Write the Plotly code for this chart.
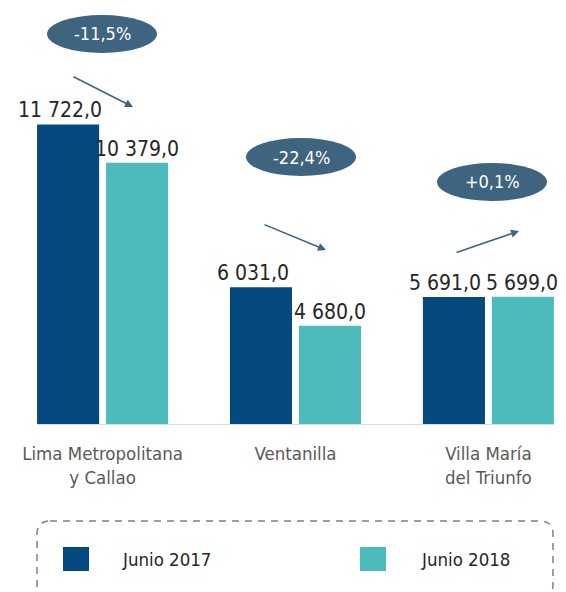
import plotly.graph_objects as go

categories = ["Lima Metropolitana<br>y Callao", "Ventanilla", "Villa María<br>del Triunfo"]
series_names = ["Junio 2017", "Junio 2018"]
values_2017 = [11722.0, 6031.0, 5691.0]
values_2018 = [10379.0, 4680.0, 5699.0]

OFF = 8  # page body margin: the figure starts 8px in from the window corner
W, H = 566 - OFF, 592 - OFF
colors = ["#044a7e", "#4dbbbc"]
slate = "#3e6480"
FONT = "Liberation Sans Narrow, DejaVu Sans Condensed, Arial Narrow, sans-serif"


def fx(px):
    return (px - OFF) / W


def fy(py):
    return 1 - (py - OFF) / H


def fmt(v):
    return f"{v:,.1f}".replace(",", " ").replace(".", ",")


def pct(a, b):
    return f"{(b / a - 1) * 100:+.1f}%".replace(".", ",")


fig = go.Figure()
for name, vals, col in zip(series_names, [values_2017, values_2018], colors):
    fig.add_trace(go.Bar(x=categories, y=vals, name=name, marker_color=col,
                         marker_line_width=0, showlegend=False, hoverinfo="skip"))

annotations = []
shapes = []

# value labels above the bars
for vals, shift in zip([values_2017, values_2018], [-43, 34]):
    for cat, v in zip(categories, vals):
        annotations.append(dict(x=cat, y=v, xref="x", yref="y", text=fmt(v),
                                showarrow=False, xshift=shift, yanchor="bottom",
                                font=dict(family=FONT, size=21, color="#262626")))

# percentage bubbles + arrows
bubble_centers = [(102, 34), (301, 157), (492, 182)]
arrows = [((133, 107), (72, 76)), ((326, 250), (263, 224)), ((519, 231), (455, 253))]
for i, (cx, cy) in enumerate(bubble_centers):
    shapes.append(dict(type="circle", xref="paper", yref="paper",
                       x0=fx(cx - 55), x1=fx(cx + 55), y0=fy(cy + 19), y1=fy(cy - 19),
                       fillcolor=slate, line_width=0))
    annotations.append(dict(x=fx(cx), y=fy(cy), xref="paper", yref="paper",
                            xanchor="center", yanchor="middle",
                            text=pct(values_2017[i], values_2018[i]), showarrow=False,
                            font=dict(family=FONT, size=18, color="white")))
    (hx, hy), (tx, ty) = arrows[i]
    annotations.append(dict(x=fx(hx), y=fy(hy), xref="paper", yref="paper", text="",
                            showarrow=True, ax=tx - hx, ay=ty - hy, arrowhead=2,
                            arrowsize=1, arrowwidth=1.6, arrowcolor=slate, standoff=0))

# legend (drawn by hand, dashed rounded frame)
L, R, T, B, r = 37, 553, 521, 598, 13
path = (f"M {fx(L + r)},{fy(T)} L {fx(R - r)},{fy(T)} Q {fx(R)},{fy(T)} {fx(R)},{fy(T + r)} "
        f"L {fx(R)},{fy(B - r)} Q {fx(R)},{fy(B)} {fx(R - r)},{fy(B)} "
        f"L {fx(L + r)},{fy(B)} Q {fx(L)},{fy(B)} {fx(L)},{fy(B - r)} "
        f"L {fx(L)},{fy(T + r)} Q {fx(L)},{fy(T)} {fx(L + r)},{fy(T)} Z")
shapes.append(dict(type="path", xref="paper", yref="paper", path=path,
                   line=dict(color="#808080", width=1.5, dash="7px,6px")))
for name, col, sx, tx in zip(series_names, colors, [63, 360], [120, 419]):
    shapes.append(dict(type="rect", xref="paper", yref="paper", x0=fx(sx), x1=fx(sx + 26),
                       y0=fy(571), y1=fy(547), fillcolor=col, line_width=0))
    annotations.append(dict(x=fx(tx), y=fy(559), xref="paper", yref="paper", text=name,
                            showarrow=False, xanchor="left", yanchor="middle",
                            font=dict(family=FONT, size=18.5, color="#262626")))

fig.update_layout(
    width=W, height=H,
    margin=dict(l=0, r=0, t=0, b=0),
    paper_bgcolor="white", plot_bgcolor="white",
    barmode="group", bargap=0.285, bargroupgap=0.1,
    xaxis=dict(domain=[fx(37), fx(554)], range=[-0.34, 2.34], showline=True,
               linecolor="#d9d9d9", linewidth=1, ticks="", showgrid=False,
               automargin=False, ticklabelstandoff=13,
               tickfont=dict(family=FONT, size=18.5, color="#595959")),
    yaxis=dict(domain=[fy(424), 1], range=[1250, 15790], visible=False,
               automargin=False),
    shapes=shapes, annotations=annotations,
)

fig.write_html("out.html")
